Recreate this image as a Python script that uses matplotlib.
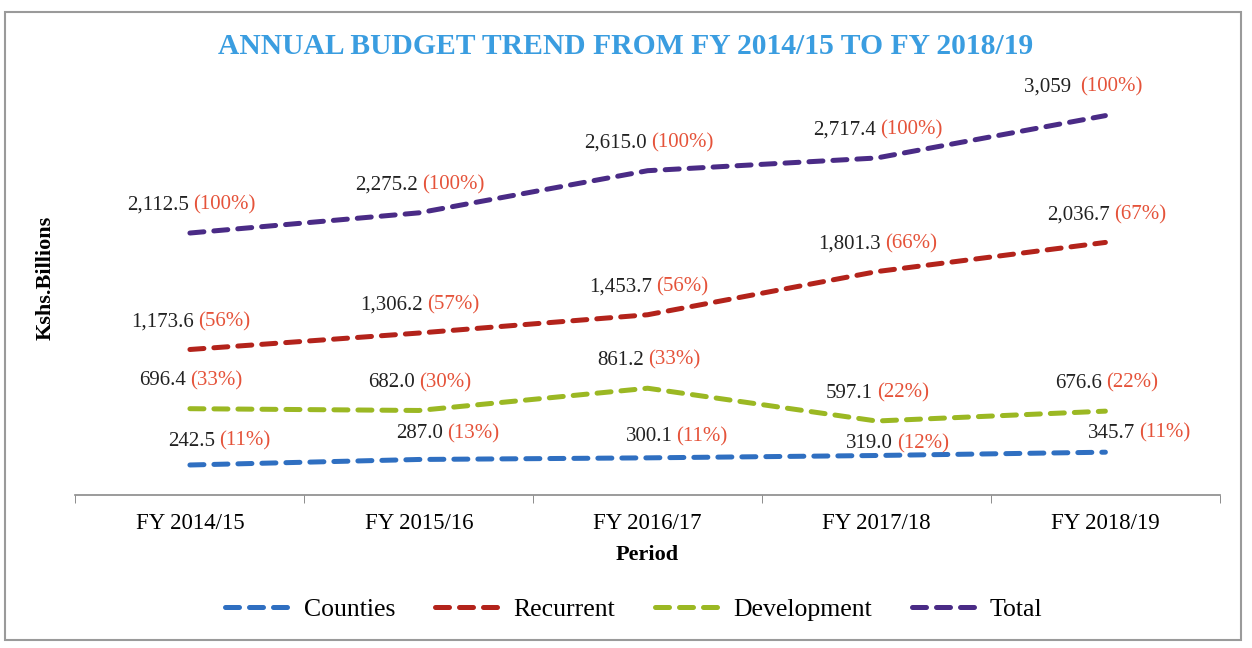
import matplotlib.pyplot as plt
import numpy as np
from matplotlib.offsetbox import AnnotationBbox, HPacker, TextArea
from matplotlib.patches import Rectangle

plt.rcParams['font.family'] = ['Liberation Serif', 'DejaVu Serif']

periods = ['FY 2014/15', 'FY 2015/16', 'FY 2016/17', 'FY 2017/18', 'FY 2018/19']

counties = [242.5, 287.0, 300.1, 319.0, 345.7]
recurrent = [1173.6, 1306.2, 1453.7, 1801.3, 2036.7]
development = [696.4, 682.0, 861.2, 597.1, 676.6]
total = [2112.5, 2275.2, 2615.0, 2717.4, 3059.0]

counties_pct = ['11%', '13%', '11%', '12%', '11%']
recurrent_pct = ['56%', '57%', '56%', '66%', '67%']
development_pct = ['33%', '30%', '33%', '22%', '22%']
total_pct = ['100%', '100%', '100%', '100%', '100%']

series = [
    ('Counties', counties, counties_pct, '#2f6fc1'),
    ('Recurrent', recurrent, recurrent_pct, '#b3231b'),
    ('Development', development, development_pct, '#9bb823'),
    ('Total', total, total_pct, '#4a2b86'),
]

# label offsets in pixels (dx, dy); Excel pushed the county labels around a bit
default_off = (1, 28)
label_off = {
    ('Counties', 0): (29, 24), ('Counties', 1): (29, 26), ('Counties', 2): (29, 21),
    ('Counties', 3): (21, 12), ('Counties', 4): (34, 19),
    ('Total', 4): (-22, 29),
}


def fmt(v, name, i):
    if name == 'Total' and i == 4:
        return f'{v:,.0f} '
    return f'{v:,.1f}'


fig = plt.figure(figsize=(12.52, 6.48), dpi=100)
fig.patches.append(Rectangle((0.004, 0.012), 0.987, 0.97, transform=fig.transFigure,
                             fill=False, edgecolor='#9a9a9a', linewidth=1.5))
ax = fig.add_axes([0.0603, 0.236, 0.914, 0.67])

x = np.arange(len(periods))
for name, vals, pcts, col in series:
    ax.plot(x, vals, color=col, linewidth=3.6, dashes=(2.8, 2.0),
            dash_capstyle='round', label=name)
    for i, (v, p) in enumerate(zip(vals, pcts)):
        box = HPacker(children=[
            TextArea(fmt(v, name, i), textprops=dict(color='#222222', fontsize=15)),
            TextArea(f'({p})', textprops=dict(color='#e5533a', fontsize=15)),
        ], align='baseline', pad=0, sep=3)
        ab = AnnotationBbox(box, (x[i], v), xybox=label_off.get((name, i), default_off),
                            xycoords='data', boxcoords='offset pixels', frameon=False)
        ax.add_artist(ab)

ax.set_xlim(-0.5, len(periods) - 0.5)
ax.set_ylim(0, 3500)
ax.set_xticks(x)
ax.set_xticklabels(periods, fontsize=16.5)
ax.set_xticks(np.arange(-0.5, len(periods)), minor=True)
ax.tick_params(axis='x', which='major', length=0, pad=13)
ax.tick_params(axis='x', which='minor', length=6, color='#7a7a7a')
ax.set_yticks([])
for s in ['top', 'right', 'left']:
    ax.spines[s].set_visible(False)
ax.spines['bottom'].set_color('#8a8a8a')
ax.spines['bottom'].set_linewidth(1.2)

ax.set_xlabel('Period', fontsize=16, fontweight='bold', labelpad=8)
ax.set_ylabel('Kshs.Billions', fontsize=16, fontweight='bold', labelpad=14)
fig.text(0.5, 0.928, 'ANNUAL BUDGET TREND FROM FY 2014/15 TO FY 2018/19',
         ha='center', va='center', fontsize=21.3, fontweight='bold', color='#3a9de0')

ax.legend(loc='center', bbox_to_anchor=(0.488, -0.264), ncol=4, frameon=False,
          fontsize=18.5, handlelength=2.7, columnspacing=1.55, handletextpad=0.35)

fig.savefig('out.png', dpi=100)
